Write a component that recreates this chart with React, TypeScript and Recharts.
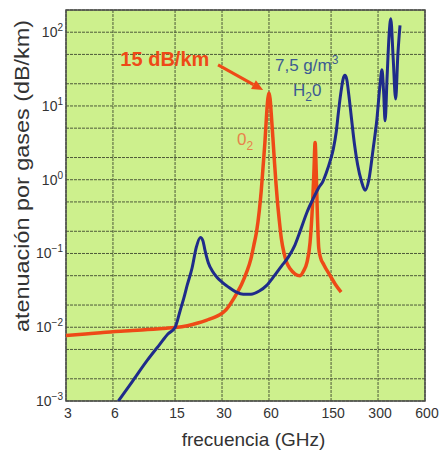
import React from "react";
import {
  LineChart,
  Line,
  XAxis,
  YAxis,
  CartesianGrid,
  ReferenceArea,
  ReferenceDot,
  ReferenceLine,
  Label,
} from "recharts";

// frequency axis (GHz) and attenuation grid (dB/km)
const freqTicks = [3, 6, 15, 30, 60, 150, 300, 600];
const attTicks = [
  0.001, 0.002, 0.005, 0.01, 0.02, 0.05, 0.1, 0.2, 0.5, 1, 2, 5, 10, 20, 50, 100,
];

// oxygen
const o2Freq = [
  3, 4, 5, 6, 8, 10, 12.5, 15, 18, 21, 24, 27, 29, 31, 33, 35, 37, 40, 43, 46, 48, 50, 52, 53.5,
  55, 56.5, 58, 59, 60, 61, 62, 63.5, 65, 66.5, 68, 70, 72, 75, 78, 82, 88, 95, 100, 105, 110,
  114, 116.5, 118.5, 120.5, 122.5, 125, 128, 135, 148, 160, 174,
];
const o2Att = [
  0.0077, 0.0081, 0.0084, 0.0087, 0.009, 0.0093, 0.0096, 0.0099, 0.0105, 0.0114, 0.0125, 0.0137,
  0.0148, 0.0163, 0.019, 0.023, 0.028, 0.038, 0.055, 0.085, 0.13, 0.2, 0.38, 0.7, 1.5, 3.2, 8,
  12.5, 15, 12.5, 8, 3.8, 1.8, 0.9, 0.5, 0.27, 0.16, 0.1, 0.075, 0.062, 0.053, 0.05, 0.058,
  0.075, 0.14, 0.45, 1.3, 3.2, 1.3, 0.35, 0.12, 0.09, 0.07, 0.05, 0.038, 0.03,
];

// water vapour, 7.5 g/m3
const h2oFreq = [
  6.5, 8, 10, 12, 13.5, 15, 16.2, 17, 18, 19.3, 20.5, 21.8, 22.6, 23.3, 24.5, 26, 28, 30, 33, 37,
  41, 46, 52, 58, 65, 72, 80, 88, 95, 105, 115, 125, 133, 140, 148, 155, 162, 168, 174, 179,
  184, 189, 195, 203, 212, 222, 235, 248, 262, 279, 295, 308, 318, 326, 333, 343, 353, 362, 375,
  389, 402, 415,
];
const h2oAtt = [
  0.001, 0.00185, 0.0036, 0.0059, 0.0081, 0.0099, 0.017, 0.024, 0.038, 0.064, 0.12, 0.165,
  0.15, 0.112, 0.075, 0.058, 0.047, 0.041, 0.035, 0.03, 0.028, 0.028, 0.031, 0.037, 0.05,
  0.067, 0.09, 0.13, 0.2, 0.36, 0.55, 0.78, 0.95, 1.25, 1.8, 2.6, 4.5, 9, 16, 23, 26, 23, 14,
  6.6, 3, 1.6, 0.95, 0.72, 1.0, 2.6, 6.6, 18, 31, 15, 6.3, 25, 90, 152, 45, 12.4, 50, 124,
];

const o2Data = o2Freq.map((f, i) => ({ f, a: o2Att[i] }));
const h2oData = h2oFreq.map((f, i) => ({ f, a: h2oAtt[i] }));

const RED = "#ee4a17";
const BLUE = "#1f2c8a";
const FONT = "'Liberation Sans', Arial, sans-serif";

const XTick = (props: any) => {
  const { x, y, payload } = props;
  return (
    <text x={x + 2} y={y + 17} textAnchor="middle" fontSize={14} fill="#333" fontFamily={FONT}>
      {payload.value}
    </text>
  );
};

const YTick = (props: any) => {
  const { x, y, payload } = props;
  const exp = Math.round(Math.log10(payload.value));
  if (Math.abs(payload.value - Math.pow(10, exp)) > 1e-9 * payload.value) return null;
  const sup = exp < 0 ? `\u2212${-exp}` : `${exp}`;
  return (
    <text x={x} y={y + 5} textAnchor="end" fontSize={14} fill="#333" fontFamily={FONT}>
      10
      <tspan dy={-6} fontSize={10}>
        {sup}
      </tspan>
    </text>
  );
};

const note = (text: React.ReactNode, color: string, size: number, weight = "normal", anchor = "start") =>
  (p: any) => (
    <text
      x={p.cx}
      y={p.cy}
      textAnchor={anchor}
      fontSize={size}
      fontWeight={weight}
      fill={color}
      fontFamily={FONT}
    >
      {text}
    </text>
  );

const Arrow = (p: any) => {
  const { x1, y1, x2, y2 } = p;
  const ang = Math.atan2(y2 - y1, x2 - x1);
  const len = 11;
  const w = 5;
  const bx = x2 - len * Math.cos(ang);
  const by = y2 - len * Math.sin(ang);
  const nx = -Math.sin(ang) * w;
  const ny = Math.cos(ang) * w;
  return (
    <g>
      <line x1={x1} y1={y1} x2={bx} y2={by} stroke={RED} strokeWidth={3} />
      <polygon points={`${x2},${y2} ${bx + nx},${by + ny} ${bx - nx},${by - ny}`} fill={RED} />
    </g>
  );
};

export default function App() {
  return (
    <div style={{ position: "absolute", left: 0, top: 0, width: 442, height: 450, background: "#fff" }}>
      <LineChart width={442} height={450} margin={{ top: 10, right: 17, bottom: 0, left: 0 }}>
        <CartesianGrid
          fill="#cdf08d"
          stroke="#4e5a3a"
          strokeDasharray="3 1"
          strokeWidth={1}
        />
        <XAxis
          type="number"
          dataKey="f"
          scale="log"
          domain={[3, 600]}
          ticks={freqTicks}
          interval={0}
          allowDataOverflow
          axisLine={false}
          tickLine={false}
          tickSize={0}
          tickMargin={0}
          height={49}
          tick={<XTick />}
        >
          <Label
            content={(p: any) => (
              <text
                x={p.viewBox.x + p.viewBox.width / 2 + 8}
                y={p.viewBox.y + 45}
                textAnchor="middle"
                fontSize={19}
                fill="#333"
                fontFamily={FONT}
              >
                frecuencia (GHz)
              </text>
            )}
          />
        </XAxis>
        <YAxis
          type="number"
          dataKey="a"
          scale="log"
          domain={[0.001, 200]}
          ticks={attTicks}
          interval={0}
          allowDataOverflow
          axisLine={false}
          tickLine={false}
          tickSize={0}
          tickMargin={3}
          width={66}
          tick={<YTick />}
        >
          <Label
            content={() => (
              <text
                x={29}
                y={176}
                transform="rotate(-90 29 176)"
                textAnchor="middle"
                fontSize={20}
                fill="#333"
                fontFamily={FONT}
                textLength={312}
                lengthAdjust="spacingAndGlyphs"
              >
                atenuación por gases (dB/km)
              </text>
            )}
          />
        </YAxis>
        <ReferenceArea x1={3} x2={600} y1={0.001} y2={200} fill="none" stroke="#4a4a4a" strokeWidth={1.5} />
        <Line
          data={o2Data}
          dataKey="a"
          type="monotone"
          stroke={RED}
          strokeWidth={3.5}
          dot={false}
          isAnimationActive={false}
        />
        <Line
          data={h2oData}
          dataKey="a"
          type="monotone"
          stroke={BLUE}
          strokeWidth={3}
          dot={false}
          isAnimationActive={false}
        />
        <ReferenceLine
          segment={[
            { x: 28.3, y: 36 },
            { x: 55, y: 16.5 },
          ]}
          shape={<Arrow />}
        />
        <ReferenceDot x={12.9} y={35} r={0} shape={note("15 dB/km", RED, 20, "bold", "middle")} />
        <ReferenceDot
          x={65.6}
          y={30}
          r={0}
          shape={note(
            <>
              7,5 g/m<tspan dy={-7} fontSize={12}>3</tspan>
            </>,
            "#3c5b92",
            17
          )}
        />
        <ReferenceDot
          x={85.5}
          y={13.7}
          r={0}
          shape={note(
            <>
              H<tspan dy={5} fontSize={12}>2</tspan>
              <tspan dy={-5}>0</tspan>
            </>,
            "#3c5b92",
            17
          )}
        />
        <ReferenceDot
          x={37.4}
          y={2.94}
          r={0}
          shape={note(
            <>
              0<tspan dy={5} fontSize={12}>2</tspan>
            </>,
            "#e8824a",
            17
          )}
        />
      </LineChart>
    </div>
  );
}
